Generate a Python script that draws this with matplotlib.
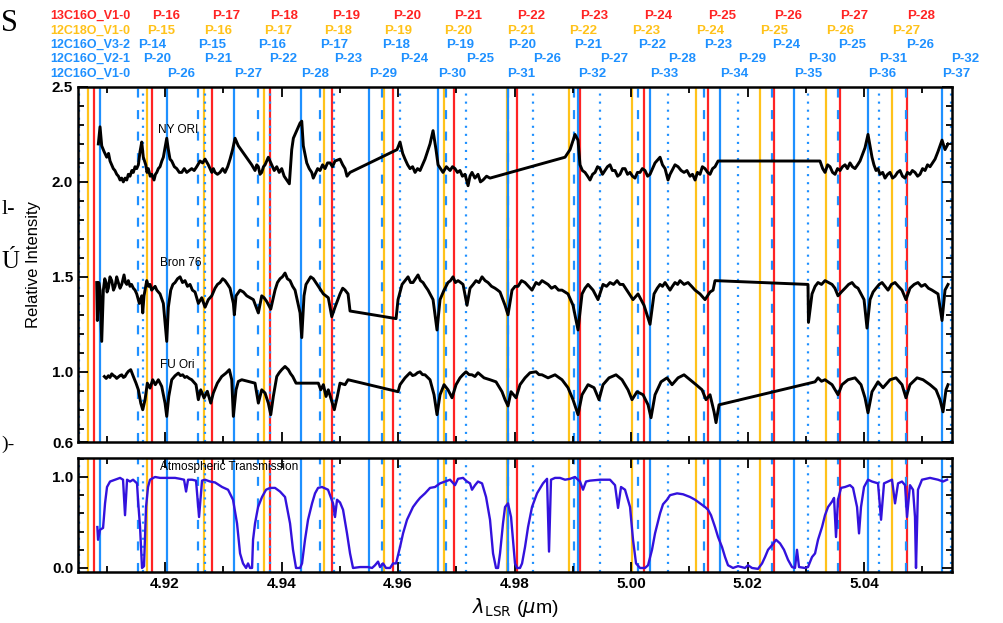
import numpy as np
import matplotlib
matplotlib.use("Agg")
import matplotlib.pyplot as plt
from matplotlib.ticker import MultipleLocator, FixedLocator
from matplotlib.transforms import blended_transform_factory

plt.rcParams['font.family'] = ['Liberation Sans', 'DejaVu Sans']
plt.rcParams['lines.scale_dashes'] = False

# ---- line lists (P-branch, micron) ----
co13_v10_J = list(range(15, 29))
co13_v10_wl = [4.90786, 4.91782, 4.92802, 4.93803, 4.94872, 4.95909, 4.96961,
               4.98038, 4.99124, 5.00228, 5.01327, 5.02460, 5.03588, 5.04733]
c18o_v10_J = list(range(14, 28))
c18o_v10_wl = [4.90673, 4.91686, 4.92675, 4.93705, 4.94735, 4.95760, 4.96790,
               4.97866, 4.98936, 5.00022, 5.01116, 5.02214, 5.03347, 5.04486]
co_v32_J = list(range(14, 27))
co_v32_wl = [4.91531, 4.92561, 4.93591, 4.94661, 4.95720, 4.96824, 4.97883,
             4.99021, 5.00125, 5.01253, 5.02415, 5.03559, 5.04720]
co_v21_J = list(range(19, 33))
co_v21_wl = [4.90524, 4.91617, 4.92678, 4.93794, 4.94906, 4.96034, 4.97167,
             4.98312, 4.99468, 5.00640, 5.01842, 5.03044, 5.04257, 5.05488]
co_v10_J = list(range(25, 38))
co_v10_wl = [4.90884, 4.92029, 4.93190, 4.94335, 4.95502, 4.96692, 4.97880,
             4.99095, 5.00326, 5.01528, 5.02798, 5.04063, 5.05344]

# ---- spectra (wavelength, relative intensity) ----
ny_ori = [
    (4.90855, 2.20), (4.90884, 2.29), (4.90913, 2.19), (4.90953, 2.16), (4.90999, 2.13),
    (4.91030, 2.15), (4.91056, 2.11), (4.91085, 2.09), (4.91112, 2.07), (4.91140, 2.06),
    (4.91171, 2.04), (4.91200, 2.03), (4.91228, 2.01), (4.91255, 2.02), (4.91284, 2.00),
    (4.91315, 2.02), (4.91343, 2.01), (4.91370, 2.04), (4.91399, 2.03), (4.91430, 2.06),
    (4.91456, 2.05), (4.91485, 2.08), (4.91514, 2.07), (4.91542, 2.09), (4.91571, 2.16),
    (4.91600, 2.21), (4.91627, 2.13), (4.91669, 2.09), (4.91690, 2.05), (4.91713, 2.07),
    (4.91745, 2.03), (4.91772, 2.04), (4.91811, 2.01), (4.91835, 2.04), (4.91858, 2.05),
    (4.91885, 2.07), (4.91914, 2.08), (4.91945, 2.11), (4.91971, 2.13), (4.92029, 2.23),
    (4.92057, 2.17), (4.92085, 2.12), (4.92115, 2.11), (4.92160, 2.08), (4.92201, 2.07),
    (4.92245, 2.05), (4.92287, 2.05), (4.92330, 2.07), (4.92373, 2.05), (4.92415, 2.06),
    (4.92458, 2.07), (4.92500, 2.06), (4.92544, 2.08), (4.92601, 2.11), (4.92645, 2.10),
    (4.92687, 2.12), (4.92743, 2.09), (4.92802, 2.05), (4.92830, 2.07), (4.92858, 2.05),
    (4.92900, 2.04), (4.92944, 2.05), (4.92990, 2.07), (4.93030, 2.05), (4.93075, 2.08),
    (4.93116, 2.12), (4.93160, 2.17), (4.93202, 2.23), (4.93258, 2.19),
    (4.93488, 2.09), (4.93545, 2.06), (4.93575, 2.09), (4.93602, 2.08), (4.93630, 2.04),
    (4.93660, 2.05), (4.93690, 2.08), (4.93717, 2.09), (4.93773, 2.13), (4.93832, 2.09),
    (4.93875, 2.06), (4.93918, 2.08), (4.93960, 2.05), (4.94003, 2.07), (4.94045, 2.03),
    (4.94089, 2.01), (4.94134, 1.99), (4.94175, 2.17), (4.94203, 2.23), (4.94318, 2.31),
    (4.94347, 2.32), (4.94374, 2.19), (4.94433, 2.10), (4.94475, 2.07), (4.94518, 2.05),
    (4.94545, 2.02), (4.94575, 2.04), (4.94620, 2.07), (4.94661, 2.06), (4.94705, 2.09),
    (4.94747, 2.07), (4.94790, 2.10), (4.94833, 2.10), (4.94875, 2.08), (4.94918, 2.11),
    (4.95004, 2.12), (4.95050, 2.09), (4.95090, 2.07), (4.95124, 2.03), (4.95176, 2.05),
    (4.95983, 2.17), (4.96034, 2.21), (4.96080, 2.15), (4.96120, 2.12), (4.96165, 2.09),
    (4.96206, 2.07), (4.96250, 2.08), (4.96292, 2.05), (4.96335, 2.07), (4.96378, 2.06),
    (4.96420, 2.09), (4.96463, 2.12), (4.96549, 2.20), (4.96601, 2.27), (4.96652, 2.17),
    (4.96687, 2.09), (4.96730, 2.07), (4.96772, 2.05), (4.96830, 2.08), (4.96893, 2.06),
    (4.96935, 2.08), (4.96978, 2.07), (4.97020, 2.05), (4.97064, 2.06), (4.97105, 2.03),
    (4.97150, 2.04), (4.97202, 1.98), (4.97235, 2.03), (4.97270, 2.05), (4.97320, 2.02),
    (4.97373, 2.04), (4.97415, 2.00), (4.97459, 2.01), (4.97520, 2.03), (4.97579, 2.02),
    (4.98867, 2.13), (4.98953, 2.17), (4.99038, 2.25), (4.99090, 2.22), (4.99124, 2.09),
    (4.99165, 2.06), (4.99210, 2.05), (4.99255, 2.03), (4.99296, 2.01), (4.99340, 2.04),
    (4.99382, 2.05), (4.99425, 2.08), (4.99468, 2.07), (4.99510, 2.04), (4.99553, 2.06),
    (4.99595, 2.08), (4.99639, 2.09), (4.99680, 2.06), (4.99725, 2.06), (4.99770, 2.03),
    (4.99811, 2.04), (4.99855, 2.07), (4.99897, 2.07), (4.99940, 2.04), (4.99983, 2.05),
    (5.00025, 2.03), (5.00068, 2.02), (5.00110, 2.05), (5.00154, 2.05), (5.00195, 2.07),
    (5.00240, 2.06), (5.00285, 2.03), (5.00326, 2.04),
    (5.00412, 2.10), (5.00498, 2.13), (5.00540, 2.09), (5.00584, 2.07), (5.00635, 2.01),
    (5.00670, 2.04), (5.00704, 2.06), (5.00755, 2.09), (5.00807, 2.08), (5.00860, 2.06),
    (5.00910, 2.05), (5.00960, 2.06), (5.01013, 2.03), (5.01055, 2.04), (5.01099, 2.01),
    (5.01140, 2.05), (5.01184, 2.04), (5.01225, 2.08), (5.01270, 2.07), (5.01315, 2.05),
    (5.01356, 2.04), (5.01400, 2.07), (5.01442, 2.08), (5.01494, 2.11),
    (5.03244, 2.11), (5.03290, 2.07), (5.03330, 2.05), (5.03375, 2.09), (5.03416, 2.08),
    (5.03460, 2.05), (5.03502, 2.04), (5.03545, 2.07), (5.03588, 2.06), (5.03630, 2.08),
    (5.03674, 2.09), (5.03715, 2.07), (5.03759, 2.10), (5.03800, 2.08), (5.03845, 2.07),
    (5.03890, 2.09), (5.03931, 2.11), (5.04017, 2.18), (5.04068, 2.25), (5.04137, 2.13),
    (5.04170, 2.09), (5.04206, 2.06), (5.04240, 2.07), (5.04274, 2.04), (5.04320, 2.05),
    (5.04360, 2.02), (5.04405, 2.04), (5.04446, 2.05), (5.04490, 2.02), (5.04532, 2.03),
    (5.04575, 2.05), (5.04618, 2.06), (5.04660, 2.03), (5.04704, 2.02), (5.04745, 2.05),
    (5.04789, 2.04), (5.04830, 2.06), (5.04875, 2.05), (5.04920, 2.03), (5.04961, 2.04),
    (5.05005, 2.07), (5.05047, 2.06), (5.05090, 2.09), (5.05133, 2.08), (5.05175, 2.10),
    (5.05219, 2.12), (5.05270, 2.16), (5.05339, 2.22), (5.05390, 2.17), (5.05442, 2.20),
]

bron_76 = [
    (4.90827, 1.47), (4.90838, 1.27), (4.90862, 1.47), (4.90884, 1.43), (4.90913, 1.16),
    (4.90941, 1.43), (4.90965, 1.49), (4.90987, 1.47), (4.91005, 1.42), (4.91027, 1.44),
    (4.91055, 1.50), (4.91085, 1.48), (4.91115, 1.43), (4.91142, 1.45), (4.91170, 1.50),
    (4.91198, 1.47), (4.91228, 1.44), (4.91257, 1.46), (4.91296, 1.51), (4.91320, 1.47),
    (4.91343, 1.46), (4.91370, 1.48), (4.91399, 1.45), (4.91425, 1.46), (4.91456, 1.44),
    (4.91485, 1.43), (4.91514, 1.41), (4.91559, 1.36), (4.91600, 1.40), (4.91617, 1.31),
    (4.91639, 1.40), (4.91686, 1.48), (4.91715, 1.45), (4.91742, 1.46), (4.91770, 1.43),
    (4.91799, 1.44), (4.91830, 1.45), (4.91858, 1.43), (4.91885, 1.42), (4.91914, 1.41),
    (4.91971, 1.36), (4.92029, 1.16), (4.92057, 1.34), (4.92098, 1.43), (4.92135, 1.46),
    (4.92172, 1.47), (4.92215, 1.49), (4.92258, 1.50), (4.92300, 1.47), (4.92343, 1.48),
    (4.92385, 1.45), (4.92429, 1.46), (4.92470, 1.43), (4.92515, 1.42), (4.92572, 1.36),
    (4.92630, 1.39), (4.92687, 1.34), (4.92743, 1.38), (4.92802, 1.40), (4.92858, 1.44),
    (4.92900, 1.46), (4.92944, 1.47), (4.92990, 1.49), (4.93030, 1.48), (4.93075, 1.46),
    (4.93116, 1.44), (4.93173, 1.36), (4.93190, 1.30), (4.93219, 1.40), (4.93288, 1.43),
    (4.93345, 1.42), (4.93403, 1.40), (4.93460, 1.39), (4.93516, 1.38), (4.93602, 1.31),
    (4.93660, 1.40), (4.93700, 1.39), (4.93746, 1.37), (4.93815, 1.33), (4.93888, 1.43),
    (4.93930, 1.47), (4.93974, 1.49), (4.94015, 1.50), (4.94060, 1.52), (4.94100, 1.49),
    (4.94146, 1.48), (4.94190, 1.45), (4.94232, 1.43), (4.94318, 1.31), (4.94347, 1.18),
    (4.94386, 1.40), (4.94420, 1.46), (4.94460, 1.48), (4.94500, 1.50), (4.94546, 1.49),
    (4.94590, 1.47), (4.94632, 1.45), (4.94675, 1.43), (4.94718, 1.41), (4.94760, 1.40),
    (4.94803, 1.39), (4.94862, 1.29), (4.94918, 1.34), (4.95004, 1.41), (4.95050, 1.44),
    (4.95090, 1.43), (4.95142, 1.41), (4.95176, 1.32),
    (4.95966, 1.28), (4.96000, 1.38), (4.96069, 1.46), (4.96120, 1.48), (4.96172, 1.50),
    (4.96215, 1.47), (4.96257, 1.47), (4.96300, 1.49), (4.96343, 1.51), (4.96385, 1.48),
    (4.96429, 1.47), (4.96470, 1.45), (4.96515, 1.43), (4.96601, 1.38), (4.96669, 1.22),
    (4.96721, 1.38), (4.96790, 1.43), (4.96858, 1.47), (4.96900, 1.48), (4.96944, 1.50),
    (4.96985, 1.47), (4.97030, 1.48), (4.97075, 1.47), (4.97116, 1.46), (4.97184, 1.35),
    (4.97236, 1.44), (4.97290, 1.46), (4.97339, 1.48), (4.97390, 1.47), (4.97442, 1.50),
    (4.97495, 1.48), (4.97545, 1.47), (4.97605, 1.45), (4.97665, 1.44), (4.97710, 1.43),
    (4.97751, 1.42), (4.97837, 1.35), (4.97888, 1.30), (4.97957, 1.43), (4.98010, 1.45),
    (4.98060, 1.45), (4.98120, 1.48), (4.98180, 1.47), (4.98240, 1.45), (4.98300, 1.43),
    (4.98369, 1.47), (4.98420, 1.46), (4.98472, 1.48), (4.98525, 1.47), (4.98575, 1.46),
    (4.98635, 1.44), (4.98695, 1.45), (4.98755, 1.43), (4.98815, 1.43), (4.98918, 1.41),
    (4.99004, 1.35), (4.99090, 1.22), (4.99159, 1.41), (4.99210, 1.44), (4.99262, 1.46),
    (4.99348, 1.43), (4.99433, 1.38), (4.99519, 1.46), (4.99580, 1.45), (4.99639, 1.47),
    (4.99700, 1.46), (4.99760, 1.48), (4.99810, 1.46), (4.99863, 1.46), (4.99948, 1.42),
    (5.00034, 1.38), (5.00120, 1.41), (5.00223, 1.35), (5.00326, 1.25), (5.00395, 1.41),
    (5.00450, 1.44), (5.00498, 1.46), (5.00540, 1.45), (5.00584, 1.47), (5.00669, 1.43),
    (5.00710, 1.45), (5.00755, 1.47), (5.00800, 1.46), (5.00841, 1.48), (5.00910, 1.46),
    (5.00978, 1.47), (5.01040, 1.45), (5.01099, 1.43), (5.01184, 1.41), (5.01270, 1.38),
    (5.01356, 1.42), (5.01408, 1.43), (5.01442, 1.48),
    (5.03038, 1.46), (5.03046, 1.26), (5.03107, 1.41), (5.03160, 1.45), (5.03210, 1.47),
    (5.03270, 1.46), (5.03330, 1.48), (5.03390, 1.47), (5.03451, 1.46), (5.03500, 1.44),
    (5.03553, 1.40), (5.03610, 1.42), (5.03674, 1.44), (5.03735, 1.46), (5.03794, 1.47),
    (5.03845, 1.45), (5.03897, 1.44), (5.04000, 1.38), (5.04051, 1.23), (5.04103, 1.38),
    (5.04155, 1.42), (5.04206, 1.44), (5.04260, 1.46), (5.04309, 1.47), (5.04360, 1.45),
    (5.04412, 1.43), (5.04470, 1.46), (5.04532, 1.47), (5.04590, 1.45), (5.04652, 1.43),
    (5.04720, 1.38), (5.04789, 1.44), (5.04860, 1.46), (5.04926, 1.47), (5.04985, 1.45),
    (5.05047, 1.46), (5.05105, 1.44), (5.05167, 1.43), (5.05270, 1.41), (5.05339, 1.27),
    (5.05390, 1.43), (5.05442, 1.46),
]

fu_ori = [
    (4.90958, 0.975), (4.90990, 0.965), (4.91027, 0.979), (4.91055, 0.970), (4.91085, 0.989),
    (4.91115, 0.980), (4.91142, 0.975), (4.91170, 0.965), (4.91198, 0.972), (4.91228, 0.980),
    (4.91257, 0.984), (4.91285, 0.970), (4.91313, 0.975), (4.91340, 0.990), (4.91370, 1.002),
    (4.91411, 1.011), (4.91456, 0.975), (4.91502, 0.940), (4.91542, 0.905), (4.91583, 0.835),
    (4.91617, 0.800), (4.91657, 0.853), (4.91696, 0.940), (4.91742, 0.914), (4.91789, 0.958),
    (4.91833, 0.932), (4.91885, 0.958), (4.91943, 0.923), (4.92000, 0.835), (4.92029, 0.765),
    (4.92064, 0.870), (4.92115, 0.958), (4.92172, 0.979), (4.92228, 0.993), (4.92265, 0.980),
    (4.92304, 0.984), (4.92340, 0.970), (4.92373, 0.975), (4.92415, 0.965), (4.92458, 0.958),
    (4.92532, 0.932), (4.92572, 0.853), (4.92613, 0.905), (4.92670, 0.862), (4.92726, 0.897),
    (4.92785, 0.835), (4.92829, 0.888), (4.92898, 0.940), (4.92973, 0.975), (4.93047, 0.993),
    (4.93104, 1.011), (4.93145, 0.958), (4.93173, 0.765), (4.93219, 0.905), (4.93258, 0.949),
    (4.93317, 0.958), (4.93545, 0.940), (4.93602, 0.835), (4.93660, 0.905), (4.93717, 0.888),
    (4.93773, 0.835), (4.93815, 0.774), (4.93859, 0.870), (4.93918, 0.975), (4.93960, 0.995),
    (4.94003, 1.011), (4.94060, 1.028), (4.94117, 1.011), (4.94155, 0.990), (4.94192, 0.975),
    (4.94249, 0.940), (4.94632, 0.940), (4.94673, 0.905), (4.94718, 0.932), (4.94764, 0.870),
    (4.94803, 0.905), (4.94862, 0.844), (4.94906, 0.800), (4.94958, 0.870), (4.95004, 0.940),
    (4.95090, 0.932), (4.95142, 0.958),
    (4.96000, 0.895), (4.96034, 0.932), (4.96120, 0.968), (4.96206, 0.995), (4.96250, 0.980),
    (4.96292, 0.984), (4.96335, 0.995), (4.96378, 1.000), (4.96420, 0.985), (4.96463, 0.984),
    (4.96549, 0.958), (4.96618, 0.879), (4.96669, 0.774), (4.96721, 0.879), (4.96790, 0.932),
    (4.96858, 0.905), (4.96927, 0.863), (4.96996, 0.932), (4.97064, 0.968), (4.97115, 0.985),
    (4.97167, 1.000), (4.97220, 0.985), (4.97270, 0.984), (4.97320, 0.975), (4.97373, 0.995),
    (4.97476, 0.968), (4.97579, 0.958), (4.97682, 0.947), (4.97785, 0.895), (4.97837, 0.853),
    (4.97888, 0.820), (4.97940, 0.895), (4.98026, 0.863), (4.98094, 0.932), (4.98180, 0.968),
    (4.98266, 0.995), (4.98369, 1.000), (4.98420, 0.985), (4.98472, 0.984), (4.98575, 0.968),
    (4.98695, 0.984), (4.98815, 0.958), (4.98918, 0.916), (4.99004, 0.853), (4.99090, 0.774),
    (4.99159, 0.879), (4.99262, 0.932), (4.99365, 0.916), (4.99450, 0.853), (4.99519, 0.932),
    (4.99622, 0.968), (4.99742, 0.984), (4.99845, 0.958), (4.99948, 0.905), (5.00017, 0.853),
    (5.00103, 0.895), (5.00206, 0.879), (5.00292, 0.826), (5.00343, 0.758), (5.00412, 0.879),
    (5.00515, 0.947), (5.00618, 0.968), (5.00704, 0.932), (5.00807, 0.968), (5.00910, 0.984),
    (5.01013, 0.958), (5.01116, 0.932), (5.01219, 0.905), (5.01287, 0.853), (5.01356, 0.879),
    (5.01425, 0.789), (5.01459, 0.732), (5.01511, 0.826),
    (5.03159, 0.947), (5.03210, 0.968), (5.03270, 0.950), (5.03330, 0.958), (5.03451, 0.932),
    (5.03553, 0.879), (5.03622, 0.932), (5.03725, 0.958), (5.03845, 0.968), (5.03948, 0.932),
    (5.04017, 0.863), (5.04068, 0.784), (5.04137, 0.895), (5.04240, 0.947), (5.04326, 0.916),
    (5.04446, 0.958), (5.04549, 0.968), (5.04652, 0.932), (5.04720, 0.863), (5.04789, 0.932),
    (5.04910, 0.968), (5.05013, 0.958), (5.05133, 0.932), (5.05236, 0.905), (5.05304, 0.853),
    (5.05356, 0.789), (5.05407, 0.905), (5.05442, 0.932),
]

atmos = [
    (4.90838, 0.45), (4.90850, 0.31), (4.90884, 0.42), (4.90936, 0.44), (4.90970, 0.71),
    (4.91004, 0.89), (4.91056, 0.95), (4.91142, 0.97), (4.91228, 0.99), (4.91279, 0.97),
    (4.91313, 0.58), (4.91348, 0.97), (4.91399, 0.95), (4.91451, 0.97), (4.91519, 0.93),
    (4.91536, 0.75), (4.91571, 0.45), (4.91605, 0.00), (4.91639, 0.02), (4.91674, 0.67),
    (4.91708, 0.89), (4.91742, 0.97), (4.91828, 1.00), (4.91914, 0.99), (4.92000, 0.99),
    (4.92086, 0.99), (4.92172, 0.99), (4.92258, 0.98), (4.92326, 0.97), (4.92361, 0.84),
    (4.92395, 0.97), (4.92464, 0.97), (4.92532, 0.96), (4.92584, 0.56), (4.92635, 0.96),
    (4.92687, 0.97), (4.92773, 0.95), (4.92858, 0.94), (4.92979, 0.89), (4.93082, 0.86),
    (4.93167, 0.75), (4.93236, 0.49), (4.93288, 0.16), (4.93339, 0.05), (4.93391, 0.00),
    (4.93425, 0.05), (4.93459, 0.00), (4.93494, 0.00), (4.93511, 0.31), (4.93545, 0.49),
    (4.93597, 0.67), (4.93665, 0.78), (4.93734, 0.86), (4.93803, 0.88), (4.93888, 0.88),
    (4.93974, 0.84), (4.94060, 0.78), (4.94146, 0.49), (4.94197, 0.20), (4.94249, 0.00),
    (4.94318, 0.00), (4.94352, 0.05), (4.94403, 0.31), (4.94455, 0.53), (4.94524, 0.71),
    (4.94575, 0.82), (4.94627, 0.88), (4.94695, 0.89), (4.94798, 0.86), (4.94884, 0.71),
    (4.94918, 0.56), (4.94953, 0.75), (4.95004, 0.72), (4.95056, 0.64), (4.95124, 0.38),
    (4.95176, 0.16), (4.95227, 0.00), (4.95348, 0.01), (4.95485, 0.01), (4.95554, 0.00),
    (4.95605, 0.03), (4.95657, 0.07), (4.95691, 0.01), (4.95742, 0.05), (4.95794, 0.00),
    (4.95863, 0.00), (4.95914, 0.05), (4.95966, 0.05), (4.96034, 0.23), (4.96086, 0.38),
    (4.96154, 0.53), (4.96206, 0.60), (4.96257, 0.67), (4.96326, 0.73), (4.96378, 0.77),
    (4.96463, 0.82), (4.96549, 0.88), (4.96635, 0.89), (4.96721, 0.93), (4.96807, 0.95),
    (4.96893, 0.97), (4.96978, 0.91), (4.97030, 0.98), (4.97116, 0.99), (4.97184, 0.95),
    (4.97236, 0.93), (4.97270, 0.86), (4.97322, 0.91), (4.97373, 0.95), (4.97442, 0.93),
    (4.97511, 0.78), (4.97579, 0.53), (4.97631, 0.16), (4.97682, 0.00), (4.97717, 0.00),
    (4.97751, 0.16), (4.97802, 0.49), (4.97837, 0.67), (4.97888, 0.71), (4.97940, 0.56),
    (4.97974, 0.31), (4.98008, 0.05), (4.98043, 0.00), (4.98094, 0.00), (4.98129, 0.05),
    (4.98180, 0.23), (4.98232, 0.45), (4.98300, 0.67), (4.98386, 0.82), (4.98489, 0.93),
    (4.98558, 0.98), (4.98592, 0.18), (4.98626, 0.97), (4.98695, 0.99), (4.98781, 0.99),
    (4.98867, 0.97), (4.98953, 0.98), (4.99038, 1.00), (4.99124, 0.95), (4.99176, 0.86),
    (4.99227, 0.95), (4.99296, 0.96), (4.99468, 0.97), (4.99639, 0.97), (4.99725, 0.91),
    (4.99777, 0.66), (4.99828, 0.89), (4.99897, 0.86), (4.99983, 0.67), (5.00034, 0.31),
    (5.00086, 0.05), (5.00154, 0.00), (5.00240, 0.00), (5.00292, 0.03), (5.00360, 0.20),
    (5.00412, 0.38), (5.00498, 0.60), (5.00549, 0.70), (5.00618, 0.75), (5.00669, 0.80),
    (5.00790, 0.82), (5.00893, 0.81), (5.01013, 0.78), (5.01099, 0.75), (5.01184, 0.71),
    (5.01270, 0.67), (5.01322, 0.64), (5.01373, 0.58), (5.01442, 0.45), (5.01494, 0.34),
    (5.01562, 0.23), (5.01614, 0.12), (5.01665, 0.03), (5.01751, 0.00), (5.01837, 0.02),
    (5.01957, 0.00), (5.02008, 0.03), (5.02077, 0.00), (5.02180, -0.01), (5.02249, 0.05),
    (5.02300, 0.12), (5.02352, 0.20), (5.02420, 0.25), (5.02489, 0.31), (5.02558, 0.27),
    (5.02626, 0.20), (5.02695, 0.09), (5.02764, 0.01), (5.02815, 0.00), (5.02849, 0.20),
    (5.02884, 0.01), (5.02987, 0.00), (5.03038, 0.01), (5.03107, 0.12), (5.03159, 0.16),
    (5.03210, 0.31), (5.03279, 0.45), (5.03330, 0.58), (5.03382, 0.67), (5.03451, 0.73),
    (5.03485, 0.77), (5.03519, 0.34), (5.03553, 0.75), (5.03605, 0.88), (5.03674, 0.89),
    (5.03759, 0.91), (5.03811, 0.88), (5.03880, 0.67), (5.03914, 0.38), (5.03948, 0.67),
    (5.04000, 0.89), (5.04068, 0.97), (5.04137, 0.95), (5.04240, 0.93), (5.04292, 0.53),
    (5.04343, 0.93), (5.04412, 0.95), (5.04480, 0.97), (5.04532, 0.71), (5.04584, 0.93),
    (5.04652, 0.95), (5.04704, 0.91), (5.04738, 0.56), (5.04789, 0.91), (5.04841, 0.86),
    (5.04875, 0.56), (5.04892, 0.00), (5.04926, 0.86), (5.04995, 0.97), (5.05133, 0.99),
    (5.05270, 0.97), (5.05356, 0.95), (5.05425, 0.97),
]

# ---- styles ----
RED = '#ff2323'
YEL = '#ffc21a'
BLU = '#1e90ff'
line_sets = [
    # (name, J, wl, colour, dashes)
    ('13C16O_V1-0', co13_v10_J, co13_v10_wl, RED, None),
    ('12C18O_V1-0', c18o_v10_J, c18o_v10_wl, YEL, None),
    ('12C16O_V3-2', co_v32_J, co_v32_wl, BLU, (6.5, 9.0)),
    ('12C16O_V2-1', co_v21_J, co_v21_wl, BLU, (1.5, 4.3)),
    ('12C16O_V1-0', co_v10_J, co_v10_wl, BLU, None),
]
header_y = [0.974, 0.951, 0.928, 0.905, 0.882]
label_min_wl = 4.914

fig = plt.figure(figsize=(10.04, 6.23), dpi=100)
ax1 = fig.add_axes([0.0777, 0.2905, 0.8705, 0.5699])
ax2 = fig.add_axes([0.0777, 0.0819, 0.8705, 0.1830])

xlim = (4.90506, 5.0551)
for ax in (ax1, ax2):
    for name, J, wl, col, dash in line_sets:
        for w in wl:
            if dash is None:
                ax.axvline(w, color=col, lw=1.6, zorder=1)
            else:
                ax.axvline(w, color=col, lw=1.6, dashes=dash, zorder=1)
    ax.set_xlim(*xlim)
    ax.xaxis.set_major_locator(FixedLocator([4.92, 4.94, 4.96, 4.98, 5.00, 5.02, 5.04]))
    ax.xaxis.set_minor_locator(FixedLocator([4.91, 4.93, 4.95, 4.97, 4.99, 5.01, 5.03, 5.05]))
    ax.tick_params(which='both', direction='in', top=True, right=True, width=1.3,
                   labelsize=11)
    ax.tick_params(which='major', length=7)
    ax.tick_params(which='minor', length=4)
    for s in ax.spines.values():
        s.set_linewidth(1.8)

for data in (ny_ori, bron_76, fu_ori):
    wl, inten = np.array(data).T
    ax1.plot(wl, inten, color='black', lw=2.1, zorder=3)
wl, tr = np.array(atmos).T
ax2.plot(wl, tr, color='#3312dd', lw=1.7, zorder=3)

ax1.set_ylim(0.63, 2.5)
ax1.set_yticks([0.63, 1.0, 1.5, 2.0, 2.5])
ax1.set_yticklabels(['0.6', '1.0', '1.5', '2.0', '2.5'], fontweight='bold')
ax1.yaxis.set_minor_locator(MultipleLocator(0.1))
ax1.set_xticklabels([])
ax1.set_ylabel('Relative Intensity', fontsize=12, labelpad=8)

ax2.set_ylim(-0.044, 1.209)
ax2.set_yticks([0.0, 1.0])
ax2.set_yticklabels(['0.0', '1.0'], fontweight='bold')
ax2.yaxis.set_minor_locator(MultipleLocator(0.2))
ax2.set_xticklabels(['4.92', '4.94', '4.96', '4.98', '5.00', '5.02', '5.04'],
                    fontweight='bold')
ax2.set_xlabel(r'$\lambda_{\mathrm{LSR}}$ ($\mu$m)', fontsize=14, labelpad=4)

ax1.text(0.0915, 0.879, 'NY ORI', transform=ax1.transAxes, fontsize=8.5, va='center')
ax1.text(0.094, 0.504, 'Bron 76', transform=ax1.transAxes, fontsize=8.5, va='center')
ax1.text(0.094, 0.217, 'FU Ori', transform=ax1.transAxes, fontsize=8.5, va='center')
ax2.text(0.094, 0.92, 'Atmospheric Transmission', transform=ax2.transAxes,
         fontsize=8.5, va='center')

# header: transition names and P-branch labels
trans = blended_transform_factory(ax1.transData, fig.transFigure)
for (name, J, wl, col, dash), y in zip(line_sets, header_y):
    fig.text(0.0498, y, name, color=col, fontsize=9, fontweight='bold', va='center')
    for j, w in zip(J, wl):
        if w > label_min_wl:
            fig.text(w, y, 'P-%d' % j, transform=trans, color=col, fontsize=9.5,
                     fontweight='bold', va='center', ha='left')

# fragments of neighbouring page text at the left edge
fig.text(0.001, 0.962, 'S', fontsize=22, family='Liberation Serif', va='center')
fig.text(0.002, 0.664, 'l-', fontsize=16, family='Liberation Serif', va='center')
fig.text(0.001, 0.580, 'Ú', fontsize=18, family='Liberation Serif', va='center')
fig.text(0.001, 0.286, ')-', fontsize=14, family='Liberation Serif', va='center')

fig.savefig('out.png', dpi=100)
